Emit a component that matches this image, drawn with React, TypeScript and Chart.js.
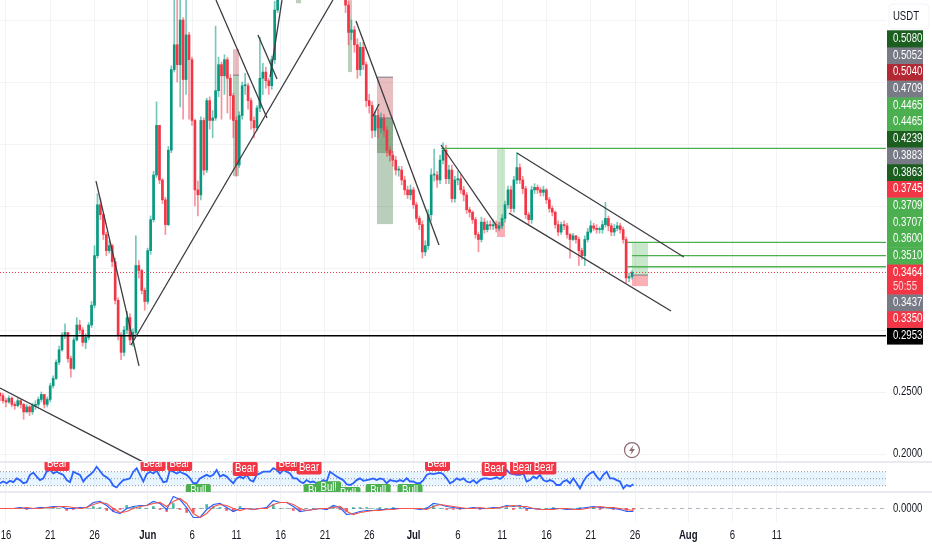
import React, { useEffect, useRef } from "react";
import { Chart, registerables } from "chart.js";

Chart.register(...registerables);

const FONT = "'Liberation Sans', sans-serif";
const UP = "#089981";
const DOWN = "#f23645";

// Candles, one every 8 hours; first bar sits at day -0.677 (day 0 = 16 May)
const closes = [
  .247,.243,.242,.245,.240,.239,.243,.240,.234,.238,
  .234,.239,.240,.244,.248,.240,.244,.255,.261,.274,
  .284,.296,.298,.277,.269,.292,.304,.300,.290,.294,
  .304,.320,.360,.401,.393,.377,.364,.368,.355,.324,
  .296,.282,.300,.310,.292,.298,.352,.348,.332,.323,
  .364,.389,.425,.465,.421,.405,.385,.445,.510,.530,
  .514,.550,.502,.538,.518,.469,.413,.409,.469,.429,
  .485,.469,.471,.493,.514,.505,.518,.503,.489,.469,
  .433,.473,.497,.497,.485,.469,.463,.479,.503,.508,
  .501,.497,.518,.558,.590,
  .600,.612,.604,.622,.630,.612,.634,.650,.642,.660,.652,.672,.660,.640,.651,.632,.643,.620,.631,.612,.601,.590,
  .562,
  .540,.542,.530,.510,.528,.514,.485,.481,.461,.473,
  .463,.471,.461,.445,.441,.437,.429,.429,.421,.413,
  .409,.413,.401,.390,.385,.363,.368,.393,.425,.425,
  .421,.437,.445,.422,.429,.406,.421,.422,.413,.409,
  .397,.395,.389,.377,.373,.387,.381,.385,.384,.385,
  .382,.384,.390,.401,.413,.398,.421,.431,.421,.414,
  .393,.389,.413,.415,.413,.411,.413,.405,.398,.395,
  .385,.379,.385,.384,.377,.373,.376,.373,.364,.360,
  .373,.379,.384,.382,.381,.381,.385,.390,.384,.379,
  .382,.384,.381,.373,.342,.343,.3464,
];
const highs = [
  .250,.249,.245,.247,.246,.242,.245,.244,.241,.240,
  .239,.241,.243,.246,.250,.248,.246,.257,.263,.276,
  .287,.298,.305,.297,.279,.294,.310,.308,.302,.297,
  .306,.323,.368,.410,.406,.394,.379,.372,.369,.358,
  .326,.298,.303,.315,.313,.301,.376,.356,.349,.334,
  .366,.392,.428,.484,.465,.422,.407,.448,.513,.570,
  .570,.570,.552,.570,.540,.520,.470,.420,.472,.471,
  .487,.488,.477,.545,.520,.516,.522,.520,.506,.491,
  .472,.476,.500,.507,.499,.487,.472,.481,.536,.515,
  .512,.503,.521,.565,.600,
  .612,.620,.618,.630,.640,.633,.640,.656,.655,.668,.664,.680,.676,.664,.658,.655,.650,.648,.638,.635,.615,.605,
  .592,
  .565,.550,.545,.535,.532,.532,.516,.490,.484,.476,
  .478,.475,.474,.464,.448,.444,.440,.432,.432,.424,
  .416,.417,.415,.403,.392,.388,.372,.397,.430,.446,
  .428,.441,.451,.449,.433,.433,.424,.428,.425,.416,
  .411,.399,.396,.391,.379,.391,.390,.388,.388,.389,
  .388,.387,.393,.404,.416,.416,.424,.443,.434,.424,
  .416,.395,.416,.418,.417,.415,.416,.414,.407,.400,
  .396,.388,.387,.388,.386,.378,.378,.376,.375,.366,
  .376,.382,.388,.386,.385,.383,.388,.403,.392,.386,
  .385,.387,.386,.383,.375,.346,.348,
];
const lows = [
  .243,.241,.238,.241,.238,.236,.238,.237,.228,.233,
  .231,.232,.236,.238,.242,.237,.238,.242,.253,.260,
  .272,.283,.293,.274,.262,.268,.291,.297,.287,.285,
  .292,.302,.318,.358,.389,.373,.360,.362,.351,.321,
  .292,.276,.279,.297,.288,.287,.296,.342,.329,.316,
  .321,.361,.387,.423,.418,.402,.377,.384,.443,.508,
  .500,.480,.470,.490,.470,.465,.400,.392,.405,.425,
  .427,.462,.455,.469,.488,.470,.490,.475,.470,.455,
  .424,.431,.470,.490,.478,.462,.455,.461,.476,.490,
  .495,.490,.494,.515,.556,
  .590,.597,.598,.600,.618,.606,.610,.630,.636,.640,.645,.650,.655,.635,.636,.628,.627,.615,.617,.608,.595,.585,
  .556,
  .530,.534,.524,.503,.505,.510,.480,.475,.455,.456,
  .455,.459,.456,.440,.436,.432,.425,.424,.417,.409,
  .406,.405,.398,.387,.381,.358,.360,.365,.388,.420,
  .415,.418,.434,.418,.418,.403,.403,.417,.410,.404,
  .394,.391,.386,.374,.363,.371,.378,.379,.381,.381,
  .379,.380,.382,.387,.398,.395,.395,.418,.418,.410,
  .390,.385,.386,.410,.410,.408,.408,.402,.395,.392,
  .382,.376,.377,.381,.374,.358,.372,.370,.352,.357,
  .352,.371,.378,.380,.378,.378,.378,.383,.380,.376,
  .376,.380,.378,.370,.338,.339,.341,
];

// RSI pane, one sample every 0.3762 day
const rsi = [
  37,42,37,44,40,51,46,37,40,61,67,56,46,51,70,75,65,70,65,61,46,40,70,65,61,42,54,61,70,84,
  72,60,54,46,30,25,37,46,48,51,70,80,61,42,63,70,65,73,56,40,42,75,70,65,70,65,61,51,37,37,
  51,56,61,56,61,75,56,61,56,46,37,51,56,51,61,46,42,61,65,70,70,70,80,75,65,75,70,65,51,51,42,37,46,
  40,42,37,39,46,42,70,63,56,51,46,34,32,37,46,51,44,46,48,51,46,51,48,37,46,44,42,46,42,51,
  42,42,37,37,46,61,65,63,65,67,63,51,37,42,51,46,51,42,39,46,37,46,51,51,49,51,54,49,56,75,
  65,63,61,61,65,42,46,56,51,61,46,42,46,42,32,32,42,46,37,51,37,22,42,56,65,70,56,46,61,70,
  51,51,46,42,22,32,28,34,
];

// MACD pane in thousandths, one sample every 0.7524 day
const macdMilli = [
  0,0,0,1,0,0,1,1,2,2,0,0,1,1,6,7,3,-3,-5,0,2,3,3,7,5,-1,12,9,1,-9,-9,-1,4,5,1,-3,0,0,-1,0,1,8,6,6,2,-3,-2,
  -1,0,-1,3,1,-6,-5,-3,-2,-2,-1,-1,0,0,0,0,-1,0,5,4,2,1,0,0,1,0,0,1,1,3,2,3,0,0,-1,-1,0,0,-1,-1,0,1,2,1,1,0,-1,-3,-3,
];
const signalMilli = [
  0,0,0,0,1,0,0,1,1,2,2,1,0,1,4,6,5,0,-4,-3,0,2,3,5,6,2,7,10,5,-5,-9,-5,2,4,3,0,-2,0,-1,0,0,4,6,6,4,0,-2,
  -1,0,0,1,2,-3,-6,-4,-3,-2,-2,-1,-1,0,0,0,0,-1,2,4,3,2,1,0,0,1,0,0,1,2,3,2,2,0,-1,-1,-1,0,0,-1,-1,0,1,2,1,1,0,-1,-2,
];

// Straight drawings: [day, price, day, price]
const trendLines = [
  [-0.68,.2532,15.46,.1936],
  [10.16,.4201,15.01,.271],
  [14.11,.2879,36.9,.5661],
  [23.7,.5661,29.46,.4709],
  [28.44,.5379,30.59,.5024],
  [29.8,.504,31.15,.5661],
  [39.5,.5492,48.87,.3685],
  [41.42,.4725,42.1,.4822],
  [49.1,.4492,55.3,.3847],
  [57.67,.4427,76.5,.3589],
  [56.77,.3943,75.06,.3153],
];
const greenLevels = [
  [49.1,.4465],
  [70.1,.3707],
  [70.65,.36],
  [70.1,.351],
];
const boxLines = [
  [25.62,26.3,.5055],
  [41.87,43.68,.5039],
  [41.87,43.68,.4709],
  [70.65,72.46,.3443],
];
const supportLevel = 0.2953;
const lastPrice = 0.3464;

// Position boxes: [day from, day to, price top, price bottom, colour]
const boxes: [number, number, number, number, string][] = [
  [25.62,26.3,.5055,.4241,"rgba(27,94,32,0.3)"],
  [25.62,26.3,.5265,.5055,"rgba(178,40,51,0.3)"],
  [32.73,33.3,.5661,.5635,"rgba(27,94,32,0.3)"],
  [38.6,39.05,.5539,.508,"rgba(27,94,32,0.3)"],
  [38.6,39.05,.5661,.5539,"rgba(178,40,51,0.3)"],
  [41.87,43.68,.5039,.4709,"rgba(178,40,51,0.3)"],
  [41.87,43.68,.4709,.3854,"rgba(27,94,32,0.3)"],
  [41.87,43.68,.4709,.4427,"rgba(27,94,32,0.3)"],
  [55.42,56.32,.4459,.387,"rgba(76,175,80,0.3)"],
  [55.42,56.32,.387,.375,"rgba(242,54,69,0.4)"],
  [70.65,72.46,.3701,.3443,"rgba(76,175,80,0.3)"],
  [70.65,72.46,.3443,.3354,"rgba(242,54,69,0.4)"],
];

// Bear / Bull markers: [day, RSI level of the label centre]
const bearMarks = [[5.76,92],[16.6,92],[19.6,92],[27,78],[31.9,92],[34.2,82],[48.7,92],[55.1,78],[58.3,82],[60.7,82]];
const bullMarks = [[21.7,15],[35,15],[36.4,23],[38.6,6],[42,15],[45.6,15]];

// Right-hand price tags, top to bottom
const tagLabels = ["0.5080","0.5052","0.5040","0.4709","0.4465","0.4465","0.4239","0.3883","0.3863","0.3745","0.3709","0.3707","0.3600","0.3510","0.3464","0.3437","0.3350","0.2953"];
const tagColors = ["#1b5e20","#787b86","#b22833","#787b86","#4caf50","#4caf50","#1b5e20","#787b86","#1b5e20","#f23645","#4caf50","#4caf50","#4caf50","#4caf50","#f23645","#787b86","#f23645","#000000"];
const countdown = "50:55";
const currency = "USDT";

// Time axis
const dayTicks = [0,5,10,16,21,26,31,36,41,46,51,56,61,66,71,77,82,87];
const dayLabels = ["16","21","26","Jun","6","11","16","21","26","Jul","6","11","16","21","26","Aug","6","11"];
const priceTicks = [0.2,0.25,0.3,0.35,0.4,0.45,0.5,0.55];
const labelledPrices = [0.2,0.25];

const barDay = (i: number) => -0.677 + i / 3;
const rsiDay = (i: number) => -0.677 + i * 0.3762;
const macdDay = (i: number) => -0.677 + i * 0.7524;

// TradingView's axis font is narrower than anything installed: squeeze via fillText's maxWidth.
const SQUEEZE = 0.8;
const narrowText = (ctx: any, text: string, x: number, y: number) => {
  ctx.fillText(text, x, y, ctx.measureText(text).width * SQUEEZE);
};

const overlayPlugin = {
  id: "overlay",
  beforeDatasetsDraw(chart: any) {
    const { ctx, scales } = chart;
    const x = scales.x, y = scales.y;
    ctx.save();
    for (const [a, b, t, u, c] of boxes) {
      const l = x.getPixelForValue(a), r = x.getPixelForValue(b);
      const top = y.getPixelForValue(t), bot = y.getPixelForValue(u);
      ctx.fillStyle = c;
      ctx.fillRect(l, top, r - l, bot - top);
    }
    ctx.restore();
  },
  afterDraw(chart: any) {
    const { ctx, scales, chartArea, width } = chart;
    const x = scales.x, y = scales.y, r = scales.rsi, m = scales.macd;
    ctx.save();
    // pane separators
    ctx.fillStyle = "#e8eaf0";
    ctx.fillRect(0, r.top - 1, width, 2);
    ctx.fillRect(0, m.top - 1, width, 2);
    // markers clipped to the RSI pane
    ctx.save();
    ctx.beginPath();
    ctx.rect(0, r.top, chartArea.right, r.bottom - r.top);
    ctx.clip();
    ctx.font = `12px ${FONT}`;
    ctx.textAlign = "center";
    ctx.textBaseline = "middle";
    const mark = (list: number[][], color: string, text: string) => {
      for (const [d, lv] of list) {
        const cx = x.getPixelForValue(d), cy = r.getPixelForValue(lv);
        ctx.fillStyle = color;
        ctx.beginPath();
        ctx.roundRect(cx - 12.5, cy - 7, 25, 14, 2);
        ctx.fill();
        ctx.fillStyle = "#fff";
        narrowText(ctx, text, cx, cy);
      }
    };
    mark(bullMarks, "#4caf50", "Bull");
    mark(bearMarks, "#f23645", "Bear");
    ctx.restore();
    // axis labels
    ctx.fillStyle = "#131722";
    ctx.textAlign = "center";
    ctx.textBaseline = "middle";
    dayTicks.forEach((d, i) => {
      const month = /[A-Z]/.test(dayLabels[i]);
      ctx.font = `${month ? "bold " : ""}12px ${FONT}`;
      narrowText(ctx, dayLabels[i], x.getPixelForValue(d), 536);
    });
    ctx.font = `12px ${FONT}`;
    ctx.textAlign = "left";
    labelledPrices.forEach((p) => narrowText(ctx, p.toFixed(4), 893, y.getPixelForValue(p)));
    narrowText(ctx, "0.0000", 893, m.getPixelForValue(0));
    // lightning badge
    const bx = x.getPixelForValue(70.65), by = y.getPixelForValue(0.2032);
    ctx.strokeStyle = "#8f6a72";
    ctx.lineWidth = 1.2;
    ctx.fillStyle = "#fff";
    ctx.beginPath();
    ctx.arc(bx, by, 7.5, 0, Math.PI * 2);
    ctx.fill();
    ctx.stroke();
    ctx.fillStyle = "#8f6a72";
    ctx.beginPath();
    ctx.moveTo(bx + 1.5, by - 5);
    ctx.lineTo(bx - 3, by + 1);
    ctx.lineTo(bx - 0.3, by + 1);
    ctx.lineTo(bx - 1.5, by + 5);
    ctx.lineTo(bx + 3, by - 1);
    ctx.lineTo(bx + 0.3, by - 1);
    ctx.closePath();
    ctx.fill();
    // USDT button
    ctx.fillStyle = "#fff";
    ctx.strokeStyle = "#f0f3fa";
    ctx.lineWidth = 1;
    ctx.beginPath();
    ctx.roundRect(889, 4, 40, 25, 4);
    ctx.fill();
    ctx.stroke();
    ctx.fillStyle = "#131722";
    ctx.font = `12px ${FONT}`;
    ctx.textAlign = "center";
    narrowText(ctx, currency, 906, 17);
    // price tags stacked upward from the lowest one
    const step = 16.7;
    let bottom = y.getPixelForValue(supportLevel) + step / 2;
    const left = chartArea.right + 1;
    ctx.textAlign = "left";
    for (let i = tagLabels.length - 1; i >= 0; i--) {
      const current = Number(tagLabels[i]) === lastPrice;
      const h = current ? 30 : step;
      const top = bottom - h;
      ctx.fillStyle = tagColors[i];
      ctx.fillRect(left, top, 36, h + 0.4);
      ctx.fillStyle = "#fff";
      narrowText(ctx, tagLabels[i], left + 6, top + step / 2);
      if (current) {
        ctx.fillStyle = "rgba(255,255,255,0.8)";
        narrowText(ctx, countdown, left + 6, top + 22.5);
      }
      bottom = top;
    }
    ctx.restore();
  },
};

const line = (pts: number[][], color: string, width: number, extra: any = {}) => ({
  type: "line",
  data: pts.map(([a, b]) => ({ x: a, y: b })),
  borderColor: color,
  borderWidth: width,
  pointRadius: 0,
  tension: 0,
  ...extra,
});

export default function App() {
  const ref = useRef<HTMLCanvasElement>(null);
  useEffect(() => {
    const opens = closes.map((_, i) => (i === 0 ? closes[0] + 0.002 : closes[i - 1]));
    const isUp = closes.map((c, i) => c >= opens[i]);
    const xMin = -0.677, xMax = 99.32;
    const datasets: any[] = [
      line([[xMin, 70], [xMax, 70]], "#9598a1", 1, { yAxisID: "rsi", borderDash: [1, 2], fill: { value: 30 }, backgroundColor: "rgba(33,150,243,0.1)", order: 6 }),
      line([[xMin, 50], [xMax, 50]], "#9598a1", 1, { yAxisID: "rsi", borderDash: [1, 2], order: 6 }),
      line([[xMin, 30], [xMax, 30]], "#9598a1", 1, { yAxisID: "rsi", borderDash: [1, 2], order: 6 }),
      line(rsi.map((v, i) => [rsiDay(i), v]), "#2962ff", 1.8, { yAxisID: "rsi", order: 1 }),
      line([[xMin, 0], [xMax, 0]], "#b2b5be", 1, { yAxisID: "macd", borderDash: [4, 4], order: 6 }),
      {
        type: "bar", yAxisID: "macd", order: 4, barThickness: 2, grouped: false,
        data: macdMilli.map((v, i) => ({ x: macdDay(i), y: [0, v - (signalMilli[i] ?? v)] })),
        backgroundColor: macdMilli.map((v, i) => (v - (signalMilli[i] ?? v) >= 0 ? "rgba(8,153,129,0.7)" : "rgba(242,54,69,0.8)")),
      },
      line(macdMilli.map((v, i) => [macdDay(i), v]), "#2962ff", 1.2, { yAxisID: "macd", order: 3 }),
      line(signalMilli.map((v, i) => [macdDay(i), v]), "#f4564a", 1.2, { yAxisID: "macd", order: 2 }),
      {
        type: "bar", yAxisID: "y", order: 5, barThickness: 1, grouped: false,
        data: closes.map((_, i) => ({ x: barDay(i), y: [lows[i], highs[i]] })),
        backgroundColor: isUp.map((u) => (u ? "rgba(8,153,129,0.55)" : "rgba(242,54,69,0.55)")),
      },
      {
        type: "bar", yAxisID: "y", order: 4, barThickness: 2, grouped: false, minBarLength: 1,
        data: closes.map((c, i) => ({ x: barDay(i), y: [Math.min(c, opens[i]), Math.max(c, opens[i])] })),
        backgroundColor: isUp.map((u) => (u ? UP : DOWN)),
      },
      line([[xMin, lastPrice], [xMax, lastPrice]], DOWN, 1, { yAxisID: "y", borderDash: [1, 2], order: 3 }),
      line([[xMin, supportLevel], [xMax, supportLevel]], "#000", 1.5, { yAxisID: "y", order: 2 }),
      ...greenLevels.map(([d, p]) => line([[d, p], [xMax, p]], "#4caf50", 1.4, { yAxisID: "y", order: 2 })),
      ...boxLines.map(([a, b, p]) => line([[a, p], [b, p]], "#787b86", 1, { yAxisID: "y", order: 2 })),
      ...trendLines.map(([a, p, b, q]) => line([[a, p], [b, q]], "#3c3c40", 1.3, { yAxisID: "y", order: 1 })),
    ];
    const fixY = (s: any) => { s.width = 46; s.paddingTop = 0; s.paddingBottom = 0; };
    const chart = new Chart(ref.current!, {
      type: "bar",
      data: { datasets },
      plugins: [overlayPlugin],
      options: {
        animation: false,
        responsive: false,
        layout: { padding: 0 },
        plugins: { legend: { display: false }, tooltip: { enabled: false } },
        scales: {
          x: {
            type: "linear", position: "bottom", min: xMin, max: xMax, offset: false,
            afterBuildTicks: (s: any) => { s.ticks = dayTicks.map((value) => ({ value })); },
            afterFit: (s: any) => { s.height = 28; s.paddingLeft = 0; s.paddingRight = 0; },
            grid: { color: "#f2f3f6", drawTicks: false, offset: false },
            border: { display: false },
            ticks: { display: false },
          },
          y: {
            type: "linear", position: "right", stack: "panes", stackWeight: 462,
            min: 0.19355, max: 0.56613, afterFit: fixY,
            afterBuildTicks: (s: any) => { s.ticks = priceTicks.map((value) => ({ value })); },
            grid: { color: "#f2f3f6", drawTicks: false },
            border: { display: false },
            ticks: { display: false },
          },
          rsi: {
            type: "linear", position: "right", stack: "panes", stackWeight: 30,
            min: 12, max: 97.7, afterFit: fixY,
            grid: { display: false }, border: { display: false },
            ticks: { display: false },
          },
          macd: {
            type: "linear", position: "right", stack: "panes", stackWeight: 30,
            min: -13.5, max: 16.5, afterFit: fixY,
            grid: { display: false }, border: { display: false },
            ticks: { display: false },
          },
        },
      } as any,
    } as any);
    return () => chart.destroy();
  }, []);
  return (
    <div style={{ position: "absolute", left: 0, top: 0, width: 932, height: 550 }}>
      <canvas ref={ref} width={932} height={550} style={{ display: "block" }} />
    </div>
  );
}
